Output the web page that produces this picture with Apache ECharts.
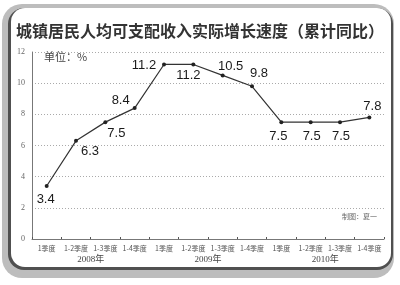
<!DOCTYPE html>
<html><head><meta charset="utf-8">
<style>html,body{margin:0;padding:0;background:#fff;}#c{width:400px;height:285px;}</style>
<script src="https://cdn.jsdelivr.net/npm/echarts@6/dist/echarts.min.js"></script>
</head><body><div id="c"></div>
<script>
var categories = ["1季度","1-2季度","1-3季度","1-4季度","1季度","1-2季度","1-3季度","1-4季度","1季度","1-2季度","1-3季度","1-4季度"];
var years = ["2008年","2009年","2010年"];
var values = [3.4, 6.3, 7.5, 8.4, 11.2, 11.2, 10.5, 9.8, 7.5, 7.5, 7.5, 7.8];
var yTicks = [0, 2, 4, 6, 8, 10, 12];
// label placement (layout only)
var labelOffsets = [[-1,13],[14,11],[11,11],[-14,-8],[-20,1],[-5,11],[8,-9],[7,-13],[-3,14],[1,14],[1,14],[3,-11]];

var chart = echarts.init(document.getElementById('c'), null, {renderer:'canvas'});
var seriesData = values.map(function(v,i){
  return {value:v, label:{offset:labelOffsets[i]}};
});
chart.setOption({
  animation:false,
  backgroundColor:'#fff',
  title:{
    text:'城镇居民人均可支配收入实际增长速度（累计同比）',
    left:'center', top:18,
    textStyle:{fontFamily:'"Noto Sans CJK SC"', fontSize:16, fontWeight:'bold', color:'#333'}
  },
  graphic:[
    {type:'rect', z:-10, shape:{x:2,y:4,width:392,height:274,r:20}, style:{fill:'#bdbdbd'}, silent:true},
    {type:'rect', z:-9, shape:{x:8,y:8,width:385,height:262,r:16}, style:{fill:'#505050'}, silent:true},
    {type:'rect', z:-8, shape:{x:11,y:8,width:380,height:259,r:14}, style:{fill:'#ffffff'}, silent:true},
    {type:'text', left:44, top:51, style:{text:'单位：%', fontFamily:'"Noto Sans CJK SC"', fontSize:11, fill:'#444'}},
    {type:'text', left:342, top:213, style:{text:'制图：夏一', fontFamily:'"Noto Sans CJK SC"', fontSize:7, fill:'#666'}}
  ],
  grid:{left:32, right:16, top:52, bottom:46},
  xAxis:[{
    type:'category', data:categories, boundaryGap:true,
    axisLine:{lineStyle:{color:'#777', width:1}},
    axisTick:{show:true, inside:true, length:2, lineStyle:{color:'#555'}},
    axisLabel:{interval:0, fontFamily:'"Noto Sans CJK SC"', fontSize:7, color:'#555', margin:6}
  },{
    type:'category', data:years, position:'bottom', boundaryGap:true,
    axisLine:{show:false}, axisTick:{show:false},
    axisLabel:{interval:0, fontFamily:'"Liberation Serif", "Noto Sans CJK SC"', fontSize:9, color:'#444', margin:16}
  }],
  yAxis:{
    type:'value', min:yTicks[0], max:yTicks[yTicks.length-1], interval:2,
    axisLine:{show:true, lineStyle:{color:'#777', width:1}},
    axisTick:{show:false},
    axisLabel:{fontFamily:'"Liberation Serif"', fontSize:8, color:'#666', margin:7},
    splitLine:{show:true, lineStyle:{color:'#aaa', type:[1,2], width:1}}
  },
  series:[{
    type:'line', xAxisIndex:0, data:seriesData,
    symbol:'circle', symbolSize:4,
    lineStyle:{color:'#333', width:1.2},
    itemStyle:{color:'#222'},
    label:{show:true, position:'inside', align:'center', verticalAlign:'middle',
      fontFamily:'"Liberation Sans", Arial', fontSize:13, color:'#1a1a1a'}
  }]
});
</script></body></html>
